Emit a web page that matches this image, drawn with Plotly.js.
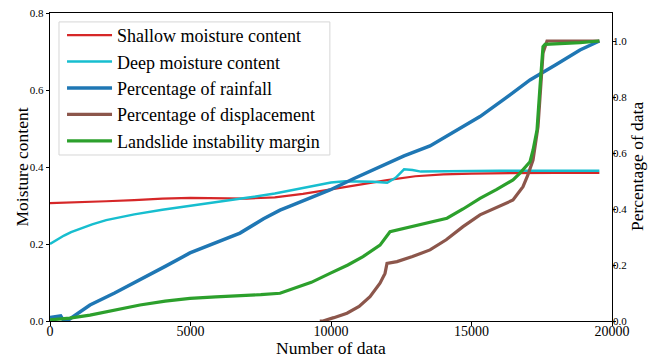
<!DOCTYPE html>
<html>
<head>
<meta charset="utf-8">
<script src="https://cdn.plot.ly/plotly-3.0.1.min.js"></script>
<style>html,body{margin:0;padding:0;background:#fff}#chart{width:660px;height:358px}</style>
</head>
<body>
<div id="chart"></div>
<script>
// Shallow moisture content (left axis)
const shallowX = [0,1000,2000,3000,4000,5000,6000,7000,8000,9000,10000,11000,12000,13000,14000,15000,16000,17000,18000,19000,19550];
const shallowY = [0.306,0.308,0.311,0.314,0.318,0.320,0.319,0.318,0.321,0.330,0.342,0.354,0.366,0.376,0.381,0.383,0.384,0.384,0.385,0.385,0.385];
// Deep moisture content (left axis)
const deepX = [0,250,500,750,1000,1500,2000,3000,4000,5000,6000,7000,8000,9000,10000,10500,11000,11500,12000,12300,12600,12900,13200,14000,15000,16000,17000,18000,19000,19550];
const deepY = [0.200,0.212,0.222,0.231,0.238,0.251,0.262,0.277,0.289,0.299,0.309,0.320,0.331,0.345,0.360,0.363,0.363,0.362,0.359,0.372,0.394,0.392,0.388,0.389,0.390,0.390,0.390,0.390,0.390,0.390];
// Percentage of rainfall (right axis)
const rainX = [0,200,380,430,500,600,1423,2300,3203,4100,4982,5900,6761,7600,8185,8541,9964,10800,11744,12600,13523,14400,15302,16200,17082,18000,18861,19550];
const rainY = [0.012,0.015,0.018,0.010,0.000,0.000,0.057,0.100,0.146,0.195,0.243,0.280,0.314,0.365,0.396,0.410,0.468,0.508,0.551,0.590,0.625,0.675,0.730,0.795,0.861,0.915,0.968,1.000];
// Percentage of displacement (right axis)
const dispX = [9600,9715,10100,10569,11000,11388,11744,11922,11993,12349,12900,13523,14100,14698,15302,15900,16477,16833,17000,17189,17367,17545,17687,18500,19550];
const dispY = [0.000,0.000,0.012,0.028,0.052,0.087,0.135,0.170,0.206,0.212,0.230,0.254,0.290,0.337,0.379,0.405,0.432,0.480,0.520,0.575,0.694,0.957,1.000,1.000,1.000];
// Landslide instability margin (right axis)
const marginX = [0,700,1423,2300,3203,4100,4982,5900,6761,7500,8185,8541,9300,9964,10600,11139,11744,12100,12500,12918,13500,14128,14700,15302,15900,16477,16726,17082,17189,17331,17438,17545,17616,18200,18861,19550];
const marginY = [0.004,0.010,0.021,0.040,0.057,0.071,0.081,0.086,0.089,0.094,0.099,0.111,0.138,0.170,0.200,0.230,0.271,0.319,0.328,0.337,0.350,0.367,0.400,0.438,0.470,0.504,0.528,0.569,0.610,0.682,0.837,0.980,0.988,0.990,0.994,1.000];

const xTicks = [0, 5000, 10000, 15000, 20000];
const xTickText = ['0','5000','10000','15000','20000'];
const yTicks = [0, 0.2, 0.4, 0.6, 0.8];
const yTickText = ['0.0','0.2','0.4','0.6','0.8'];
const y2Ticks = [0, 0.2, 0.4, 0.6, 0.8, 1.0];
const y2TickText = ['0.0','0.2','0.4','0.6','0.8','1.0'];

const serif = '"Liberation Serif", serif';
const traces = [
  {x: shallowX, y: shallowY, name: 'Shallow moisture content', type: 'scatter', mode: 'lines', line: {color: '#d62728', width: 2.2}, yaxis: 'y'},
  {x: deepX, y: deepY, name: 'Deep moisture content', type: 'scatter', mode: 'lines', line: {color: '#17becf', width: 2.5}, yaxis: 'y'},
  {x: rainX, y: rainY, name: 'Percentage of rainfall', type: 'scatter', mode: 'lines', line: {color: '#1f77b4', width: 3.5}, yaxis: 'y2'},
  {x: dispX, y: dispY, name: 'Percentage of displacement', type: 'scatter', mode: 'lines', line: {color: '#8c564b', width: 3.2}, yaxis: 'y2'},
  {x: marginX, y: marginY, name: 'Landslide instability margin', type: 'scatter', mode: 'lines', line: {color: '#2ca02c', width: 3.2}, yaxis: 'y2'}
];

const layout = {
  width: 660, height: 358,
  margin: {l: 50, r: 48, t: 13, b: 37, pad: 0},
  paper_bgcolor: '#fff', plot_bgcolor: '#fff',
  showlegend: true,
  hovermode: false,
  font: {family: serif, color: '#000'},
  // axis carrying the line and tick marks
  xaxis: {
    range: [0, 20000], tickvals: xTicks, ticktext: xTickText, showticklabels: false,
    showgrid: false, zeroline: false, showline: true, mirror: true, linecolor: '#000', linewidth: 1.2,
    ticks: 'outside', ticklen: 4, tickcolor: '#000'
  },
  // overlay axis carrying only the tick labels (closer to the spine)
  xaxis2: {
    overlaying: 'x', anchor: 'y', side: 'bottom', matches: 'x',
    range: [0, 20000], tickvals: xTicks, ticktext: xTickText,
    showgrid: false, zeroline: false, showline: false, ticks: '',
    tickfont: {size: 14, family: serif, color: '#000'}
  },
  yaxis: {
    range: [0, 0.8], tickvals: yTicks, ticktext: yTickText,
    showgrid: false, zeroline: false, showline: true, linecolor: '#000', linewidth: 1.2,
    ticks: 'outside', ticklen: 3, tickcolor: '#000', tickfont: {size: 11, family: serif}
  },
  yaxis2: {
    overlaying: 'y', side: 'right', range: [0, 1.1], tickvals: y2Ticks, ticktext: y2TickText, showticklabels: false,
    showgrid: false, zeroline: false, showline: true, linecolor: '#000', linewidth: 1.2,
    ticks: 'outside', ticklen: 3, tickcolor: '#000'
  },
  yaxis3: {
    overlaying: 'y', side: 'right', anchor: 'x', range: [0, 1.1], tickvals: y2Ticks, ticktext: y2TickText,
    showgrid: false, zeroline: false, showline: false, ticks: '',
    tickfont: {size: 11, family: serif, color: '#000'}
  },
  annotations: [
    {text: 'Number of data', xref: 'paper', yref: 'paper', x: 0.5, y: -0.087, xanchor: 'center', yanchor: 'middle', showarrow: false, font: {size: 17.5, family: serif, color: '#000'}},
    {text: 'Moisture content', xref: 'paper', yref: 'paper', x: -0.0507, y: 0.5, xanchor: 'center', yanchor: 'middle', textangle: -90, showarrow: false, font: {size: 17.5, family: serif, color: '#000'}},
    {text: 'Percentage of data', xref: 'paper', yref: 'paper', x: 1.0445, y: 0.5, xanchor: 'center', yanchor: 'middle', textangle: -90, showarrow: false, font: {size: 17.5, family: serif, color: '#000'}}
  ],
  shapes: [
    {type: 'rect', xref: 'paper', yref: 'paper', x0: 0.016, x1: 0.498, y0: 0.539, y1: 0.971, layer: 'above',
     fillcolor: 'rgba(255,255,255,0.8)', line: {color: '#d6d6d6', width: 1}}
  ],
  legend: {
    x: 0.0214, y: 0.987, xanchor: 'left', yanchor: 'top',
    bgcolor: 'rgba(0,0,0,0)', borderwidth: 0,
    itemwidth: 45,
    font: {size: 18, family: serif, color: '#000'}
  }
};

// invisible helper traces so the label-only axes are drawn
traces.push({x: [0], y: [0], xaxis: 'x2', yaxis: 'y', type: 'scatter', mode: 'none', showlegend: false, hoverinfo: 'skip'});
traces.push({x: [0], y: [0], xaxis: 'x', yaxis: 'y3', type: 'scatter', mode: 'none', showlegend: false, hoverinfo: 'skip'});

Plotly.newPlot('chart', traces, layout, {displayModeBar: false, staticPlot: true});
</script>
</body>
</html>
